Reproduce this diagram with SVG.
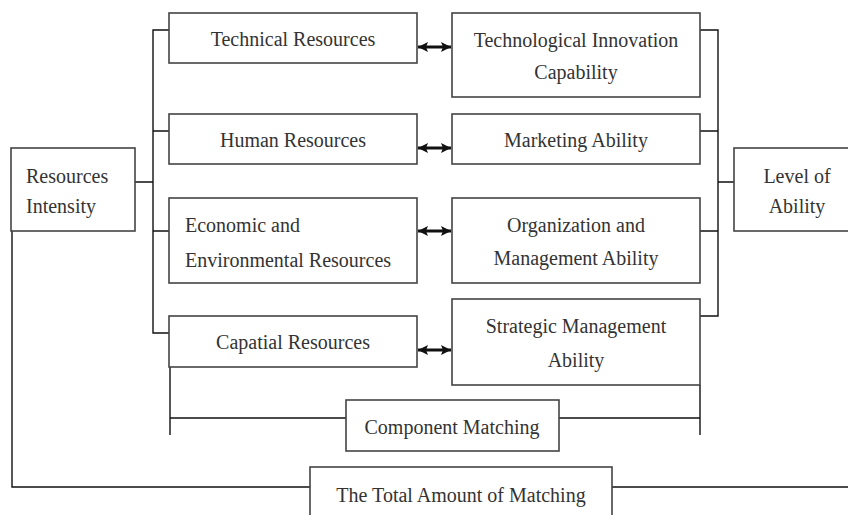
<svg xmlns="http://www.w3.org/2000/svg" width="848" height="515" viewBox="0 0 848 515">
<defs>
<marker id="ah" viewBox="0 0 10 10" refX="10" refY="5" markerWidth="10" markerHeight="10" markerUnits="userSpaceOnUse" orient="auto-start-reverse">
<path d="M0,0 L10,5 L0,10 L2,5 z" fill="#111"/>
</marker>
</defs>
<style>
rect.box{fill:#fff;stroke:#444;stroke-width:1.6}
text{font-family:"Liberation Serif","Times New Roman",serif;font-size:20px;fill:#333}
.c{text-anchor:middle}
.ln{fill:none;stroke:#111;stroke-width:1.4}
.ar{fill:none;stroke:#111;stroke-width:3}
</style>
<rect width="848" height="515" fill="#fff"/>
<g id="connectors">
<path class="ln" d="M169,30 H153 V333 H169 M153,131 H169 M153,231 H169 M135,182 H153"/>
<path class="ln" d="M700,30 H718 V316 H700 M700,131 H718 M700,231 H718 M718,182 H734"/>
<path class="ln" d="M170,367 V435 M170,418 H346 M700,385 V435 M559,418 H700"/>
<path class="ln" d="M12,231 V487 H310 M612,487 H848"/>
<line class="ar" x1="418" y1="47" x2="451" y2="47" marker-start="url(#ah)" marker-end="url(#ah)"/>
<line class="ar" x1="418" y1="148" x2="451" y2="148" marker-start="url(#ah)" marker-end="url(#ah)"/>
<line class="ar" x1="418" y1="231" x2="451" y2="231" marker-start="url(#ah)" marker-end="url(#ah)"/>
<line class="ar" x1="418" y1="350" x2="451" y2="350" marker-start="url(#ah)" marker-end="url(#ah)"/>
</g>
<g id="resources-intensity"><rect class="box" x="11" y="148" width="124" height="83"/><text x="26" y="183">Resources</text><text x="26" y="213">Intensity</text></g>
<g id="technical-resources"><rect class="box" x="169" y="13" width="248" height="50"/><text class="c" x="293" y="46">Technical Resources</text></g>
<g id="human-resources"><rect class="box" x="169" y="114" width="248" height="50"/><text class="c" x="293" y="147">Human Resources</text></g>
<g id="economic-resources"><rect class="box" x="169" y="198" width="248" height="85"/><text x="185" y="232">Economic and</text><text x="185" y="267">Environmental Resources</text></g>
<g id="capital-resources"><rect class="box" x="169" y="316" width="248" height="51"/><text class="c" x="293" y="349">Capatial Resources</text></g>
<g id="tech-innovation"><rect class="box" x="452" y="13" width="248" height="84"/><text class="c" x="576" y="47">Technological Innovation</text><text class="c" x="576" y="79">Capability</text></g>
<g id="marketing"><rect class="box" x="452" y="114" width="248" height="50"/><text class="c" x="576" y="147">Marketing Ability</text></g>
<g id="organization"><rect class="box" x="452" y="198" width="248" height="85"/><text class="c" x="576" y="232">Organization and</text><text class="c" x="576" y="265">Management Ability</text></g>
<g id="strategic"><rect class="box" x="452" y="299" width="248" height="86"/><text class="c" x="576" y="333">Strategic Management</text><text class="c" x="576" y="367">Ability</text></g>
<g id="level-of-ability"><rect class="box" x="734" y="148" width="130" height="83"/><text class="c" x="797" y="183">Level of</text><text class="c" x="797" y="213">Ability</text></g>
<g id="component-matching"><rect class="box" x="346" y="400" width="213" height="51"/><text class="c" x="452" y="434">Component Matching</text></g>
<g id="total-matching"><rect class="box" x="310" y="467" width="302" height="60"/><text class="c" x="461" y="502">The Total Amount of Matching</text></g>
</svg>
